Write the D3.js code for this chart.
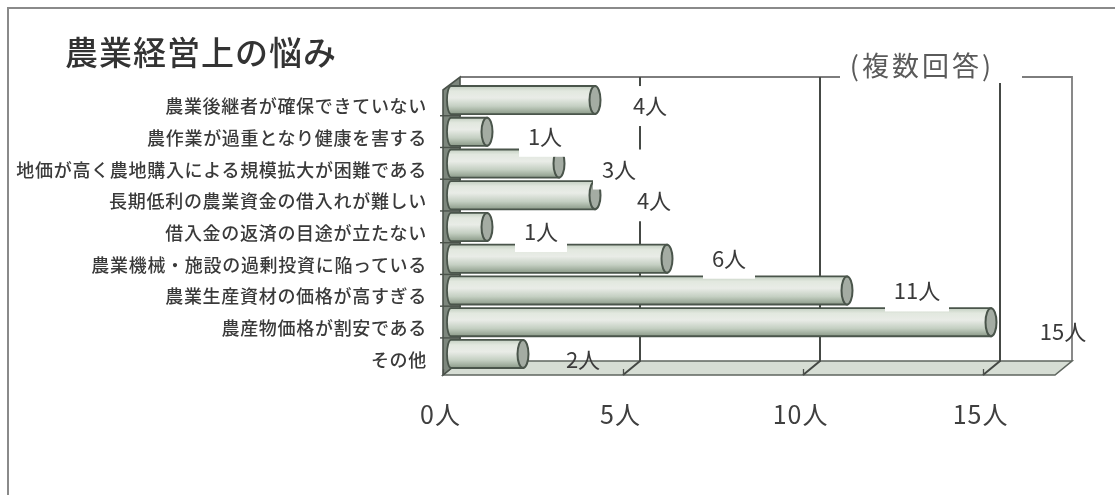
<!DOCTYPE html>
<html lang="ja">
<head>
<meta charset="utf-8">
<script src="https://cdn.jsdelivr.net/npm/d3@7"></script>
<style>
html,body{margin:0;padding:0;background:#fff;overflow:hidden}
svg{display:block;filter:blur(0.5px)}
text{font-family:"Noto Sans CJK JP","Noto Sans",sans-serif;fill:#3a3a3a}
</style>
</head>
<body>
<script>
const titleText = "農業経営上の悩み";
const noteText = "(複数回答)";
const categories = ["農業後継者が確保できていない","農作業が過重となり健康を害する","地価が高く農地購入による規模拡大が困難である","長期低利の農業資金の借入れが難しい","借入金の返済の目途が立たない","農業機械・施設の過剰投資に陥っている","農業生産資材の価格が高すぎる","農産物価格が割安である","その他"];
const values = [4,1,3,4,1,6,11,15,2];
const tickValues = [0,5,10,15];
const unit = "人";

// layout only
const labelNudge = [55,58,60,59,54,62,70,72,60];
const labelRise = [0,-1,0,0,-1,-6,-5,4,0];
const maskedRows = 7;
const W=1115,H=495, depthX=9, frontX=8, depthY=14;
const floorY=375;

const svg=d3.select("body").append("svg").attr("width",W).attr("height",H);
const x=d3.scaleLinear().domain([0,17]).range([451,1063]);
const y=d3.scaleBand().domain(categories).range([86,368]).paddingInner(0.115).paddingOuter(0);
const ink="#4a554b";

const defs=svg.append("defs");
const g=defs.append("linearGradient").attr("id","cyl").attr("x1",0).attr("x2",0).attr("y1",0).attr("y2",1);
[[0,"#c3cfc1"],[0.18,"#e2e8df"],[0.42,"#e9ece7"],[0.72,"#c4cfc2"],[1,"#8b9a88"]].forEach(s=>g.append("stop").attr("offset",s[0]).attr("stop-color",s[1]));

// frame
svg.append("path").attr("d",`M8,${H} L8,8 L${W},8`).attr("fill","none").attr("stroke","#8a8a8a").attr("stroke-width",2);

// back wall top + right side
const backTop=77, backBottom=floorY-depthY;
svg.append("path").attr("d",`M${x(0)+depthX},${backTop} L${x(17)+depthX},${backTop} L${x(17)+depthX},${backBottom}`)
  .attr("fill","none").attr("stroke","#7d7d7d").attr("stroke-width",1.8);

// floor
svg.append("polygon").attr("points",[[x(0)-frontX,floorY],[x(0)+depthX,backBottom],[x(17)+depthX,backBottom],[x(17)-frontX,floorY]].join(" "))
  .attr("fill","#d6ddd4").attr("stroke","#5f665f").attr("stroke-width",1.6);

// grid on back wall and floor
svg.selectAll(".grid").data(tickValues.slice(1)).join("path").attr("class","grid")
  .attr("d",d=>`M${x(d)+depthX},${backTop} L${x(d)+depthX},${backBottom} L${x(d)-frontX},${floorY}`)
  .attr("fill","none").attr("stroke","#454945").attr("stroke-width",2);

// left wall
svg.append("polygon").attr("points",[[x(0)-frontX,90],[x(0)+depthX,backTop],[x(0)+depthX,backBottom],[x(0)-frontX,floorY]].join(" "))
  .attr("fill","#7d877d").attr("stroke","#4a524a").attr("stroke-width",1.6);

// wall row ticks
svg.selectAll(".rowtick").data(categories.slice(1)).join("line").attr("class","rowtick")
  .attr("x1",x(0)-frontX-3).attr("x2",x(0)+depthX+1)
  .attr("y1",d=>y(d)-2).attr("y2",d=>y(d)-2)
  .attr("stroke","#4a524a").attr("stroke-width",1.4);

// cylinders
const bars=svg.selectAll(".bar").data(categories).join("g").attr("class","bar");
const rxCap=5.5;
bars.append("path")
  .attr("d",(d,i)=>{const t=y(d),b=y(d)+y.bandwidth(),r=y.bandwidth()/2;
    return `M${x(0)},${t} L${x(values[i])},${t} L${x(values[i])},${b} L${x(0)},${b} A4,${r} 0 0 1 ${x(0)},${t} Z`;})
  .attr("fill","url(#cyl)").attr("stroke",ink).attr("stroke-width",1.8);
bars.append("ellipse")
  .attr("cx",(d,i)=>x(values[i])).attr("cy",d=>y(d)+y.bandwidth()/2)
  .attr("rx",rxCap).attr("ry",y.bandwidth()/2)
  .attr("fill","#a4aca3").attr("stroke",ink).attr("stroke-width",2);

// white backgrounds of the value labels
const lx=i=>x(values[i])+labelNudge[i];
const ly=(d,i)=>y(d)+y.bandwidth()/2+labelRise[i];
svg.selectAll(".mask").data(categories.slice(0,maskedRows)).join("rect").attr("class","mask")
  .attr("x",(d,i)=>lx(i)-(values[i]>9?32:26))
  .attr("width",(d,i)=>values[i]>9?64:52)
  .attr("y",(d,i)=>ly(d,i)-14).attr("height",40)
  .attr("fill","#fff");

// value labels
svg.selectAll(".val").data(categories).join("text").attr("class","val")
  .attr("x",(d,i)=>lx(i)).attr("y",(d,i)=>ly(d,i)+14)
  .attr("text-anchor","middle").attr("font-size",22).attr("font-weight",400)
  .text((d,i)=>values[i]+unit);

// category labels
svg.selectAll(".cat").data(categories).join("text").attr("class","cat")
  .attr("x",427).attr("y",d=>y(d)+y.bandwidth()/2+13)
  .attr("text-anchor","end").attr("font-size",18).attr("letter-spacing",0.7).attr("font-weight",500)
  .text(d=>d);

// x axis
const axis=d3.axisBottom(x).tickValues(tickValues).tickSize(-6).tickPadding(31).tickFormat(d=>d+unit);
const ax=svg.append("g").attr("transform",`translate(${-frontX},${floorY})`).call(axis);
ax.select(".domain").remove();
ax.selectAll(".tick line").attr("stroke","#4b4f4b").attr("stroke-width",1.3);
ax.selectAll(".tick text").attr("dx",-3).attr("font-size",25).attr("letter-spacing",1)
  .style("fill","#3f3f3f");
ax.attr("font-family",null).attr("font-size",null);

// note mask and note
svg.append("rect").attr("x",840).attr("y",50).attr("width",182).attr("height",33).attr("fill","#fff");
svg.append("text").attr("x",922).attr("y",76).attr("text-anchor","middle").attr("font-size",27).attr("letter-spacing",3)
  .style("fill","#5a5a5a").text(noteText);

// title
svg.append("text").attr("x",65).attr("y",65).attr("font-size",33).attr("letter-spacing",1).attr("font-weight",500).style("fill","#333").text(titleText);
</script>
</body>
</html>
